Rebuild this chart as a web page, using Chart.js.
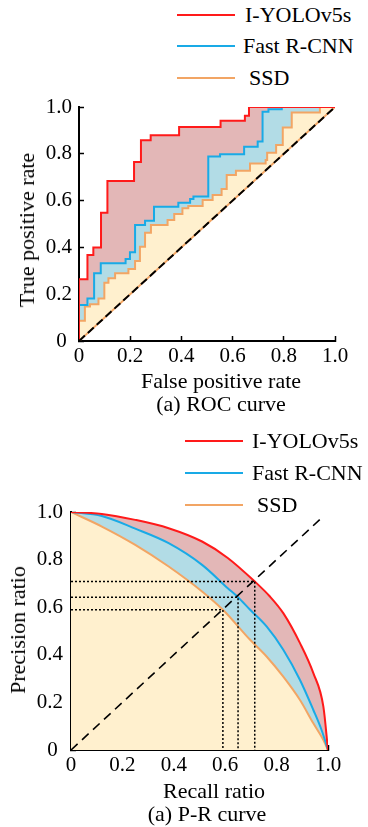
<!DOCTYPE html>
<html>
<head>
<meta charset="utf-8">
<script src="https://cdn.jsdelivr.net/npm/chart.js@4.4.0/dist/chart.umd.min.js"></script>
<style>
body { margin: 0; background: #fff; }
#page { position: relative; width: 368px; height: 827px; overflow: hidden; font-family: "Liberation Serif", "Times New Roman", serif; color: #000; }
canvas { position: absolute; left: 0; }
.txt { position: absolute; font-size: 22px; white-space: nowrap; line-height: 1; }
.lg { transform: translateY(-50%); }
.ctr { transform: translate(-50%, -50%); }
.rot { transform: translate(-50%, -50%) rotate(-90deg); }
.key { position: absolute; height: 0; width: 58px; border-top: 2px solid; margin-top: -1px; }
</style>
</head>
<body>
<div id="page">
  <!-- ROC legend -->
  <div class="key" style="left:177px; top:15px; border-color:#ff1a1a;"></div>
  <div class="txt lg" style="left:245px; top:15px;">I-YOLOv5s</div>
  <div class="key" style="left:177px; top:46px; border-color:#19aae6;"></div>
  <div class="txt lg" style="left:243px; top:46px;">Fast R-CNN</div>
  <div class="key" style="left:177px; top:78px; border-color:#f2a564;"></div>
  <div class="txt lg" style="left:249px; top:78px;">SSD</div>

  <canvas id="roc" width="368" height="330" style="top:90px;"></canvas>
  <div class="txt rot" style="left:27px; top:230px;">True positive rate</div>
  <div class="txt ctr" style="left:221px; top:381px;">False positive rate</div>
  <div class="txt ctr" style="left:221px; top:404px;">(a) ROC curve</div>

  <!-- P-R legend -->
  <div class="key" style="left:185px; top:441px; border-color:#ff1a1a;"></div>
  <div class="txt lg" style="left:252px; top:441px;">I-YOLOv5s</div>
  <div class="key" style="left:185px; top:473px; border-color:#19aae6;"></div>
  <div class="txt lg" style="left:252px; top:473px;">Fast R-CNN</div>
  <div class="key" style="left:185px; top:505px; border-color:#f2a564;"></div>
  <div class="txt lg" style="left:257px; top:505px;">SSD</div>

  <canvas id="pr" width="368" height="407" style="top:420px;"></canvas>
  <div class="txt rot" style="left:18px; top:630px;">Precision ratio</div>
  <div class="txt ctr" style="left:214px; top:791px;">Recall ratio</div>
  <div class="txt ctr" style="left:207px; top:814px;">(a) P-R curve</div>
</div>

<script>
// ROC curve points (false positive rate, true positive rate)
const rocYoloFpr = [0, 0, 0.033, 0.056, 0.086, 0.111, 0.215, 0.242, 0.280, 0.391, 0.553, 0.648, 0.664, 1.0];
const rocYoloTpr = [0, 0.264, 0.368, 0.400, 0.548, 0.684, 0.765, 0.858, 0.879, 0.914, 0.941, 0.963, 1.0, 1.0];

const rocFrcnnFpr = [0, 0, 0.033, 0.059, 0.085, 0.182, 0.199, 0.219, 0.258, 0.293, 0.388, 0.434, 0.447, 0.505, 0.551, 0.645, 0.698, 0.717, 0.740, 0.792, 1.0];
const rocFrcnnTpr = [0, 0.154, 0.182, 0.289, 0.332, 0.350, 0.379, 0.496, 0.514, 0.574, 0.591, 0.607, 0.618, 0.788, 0.798, 0.830, 0.853, 0.980, 0.990, 1.0, 1.0];

const rocSsdFpr = [0, 0, 0.023, 0.043, 0.076, 0.099, 0.115, 0.141, 0.193, 0.219, 0.238, 0.258, 0.281, 0.346, 0.372, 0.404, 0.427, 0.483, 0.522, 0.557, 0.577, 0.613, 0.668, 0.729, 0.735, 0.770, 0.796, 0.831, 0.941, 1.0];
const rocSsdTpr = [0, 0.087, 0.147, 0.157, 0.182, 0.249, 0.268, 0.289, 0.308, 0.342, 0.403, 0.463, 0.496, 0.517, 0.543, 0.567, 0.577, 0.603, 0.624, 0.650, 0.709, 0.728, 0.759, 0.774, 0.805, 0.838, 0.912, 0.977, 1.0, 1.0];

const chanceX = [0, 1];
const chanceY = [0, 1];

// P-R curve points (recall, precision)
const prYoloRecall = [0, 0.12, 0.25, 0.38, 0.51, 0.61, 0.715, 0.774, 0.826, 0.891, 0.943, 0.982, 1.0];
const prYoloPrecision = [1.0, 0.992, 0.967, 0.932, 0.876, 0.807, 0.708, 0.645, 0.575, 0.449, 0.323, 0.182, 0];

const prFrcnnRecall = [0, 0.12, 0.25, 0.38, 0.51, 0.61, 0.65, 0.697, 0.761, 0.826, 0.891, 0.943, 0.975, 1.0];
const prFrcnnPrecision = [1.0, 0.983, 0.93, 0.869, 0.778, 0.68, 0.642, 0.589, 0.519, 0.421, 0.294, 0.168, 0.084, 0];

const prSsdRecall = [0, 0.12, 0.25, 0.38, 0.51, 0.591, 0.697, 0.761, 0.826, 0.891, 0.943, 0.982, 1.0];
const prSsdPrecision = [1.0, 0.939, 0.862, 0.771, 0.666, 0.589, 0.463, 0.393, 0.308, 0.21, 0.112, 0.042, 0];

// break-even points where each curve meets the diagonal
const breakEvenRecall = [0.715, 0.650, 0.591];
const breakEvenPrecision = [0.708, 0.642, 0.589];

const prDiagX = [0, 0.98];
const prDiagY = [0, 0.98];

const tickValues = [0, 0.2, 0.4, 0.6, 0.8, 1.0];

const RED = '#ff1a1a', BLUE = '#19aae6', ORANGE = '#f2a564';
const RED_FILL = 'rgb(227,183,183)', BLUE_FILL = 'rgb(178,220,230)', CREAM = 'rgb(255,240,206)';

function pts(xs, ys) {
    return xs.map((x, i) => ({ x: x, y: ys[i] }));
}

function fmt(v, yAxis) {
    if (Math.abs(v) < 1e-9) return yAxis ? '0 ' : '0';
    return v.toFixed(1);
}

function axes(yWidth, xHeight, yPad) {
    const tickFont = { family: 'Liberation Serif', size: 21 };
    return {
        x: {
            type: 'linear', min: 0, max: 1,
            afterBuildTicks: (s) => { s.ticks = tickValues.map(v => ({ value: v })); },
            afterFit: (s) => { s.height = xHeight; s.paddingLeft = 0; s.paddingRight = 0; },
            grid: { drawOnChartArea: false, tickLength: -5, tickColor: '#000', tickWidth: 1.5 },
            border: { color: '#000', width: 2 },
            ticks: { color: '#000', font: tickFont, padding: 8, maxRotation: 0, callback: (v) => fmt(v, false) }
        },
        y: {
            type: 'linear', min: 0, max: 1,
            afterBuildTicks: (s) => { s.ticks = tickValues.map(v => ({ value: v })); },
            afterFit: (s) => { s.width = yWidth; s.paddingTop = 0; s.paddingBottom = 0; },
            grid: { drawOnChartArea: false, tickLength: -5, tickColor: '#000', tickWidth: 1.5 },
            border: { color: '#000', width: 2 },
            ticks: { color: '#000', font: tickFont, padding: yPad, callback: (v) => fmt(v, true) }
        }
    };
}

new Chart(document.getElementById('roc').getContext('2d'), {
    type: 'line',
    data: {
        datasets: [
            { data: pts(chanceX, chanceY), borderColor: '#000', borderWidth: 2, borderDash: [8, 4], pointRadius: 0, fill: false },
            { label: 'I-YOLOv5s', data: pts(rocYoloFpr, rocYoloTpr), borderColor: RED, borderWidth: 2, stepped: true, pointRadius: 0, fill: { target: 2 }, backgroundColor: RED_FILL },
            { label: 'Fast R-CNN', data: pts(rocFrcnnFpr, rocFrcnnTpr), borderColor: BLUE, borderWidth: 2, stepped: true, pointRadius: 0, fill: { target: 3 }, backgroundColor: BLUE_FILL },
            { label: 'SSD', data: pts(rocSsdFpr, rocSsdTpr), borderColor: ORANGE, borderWidth: 2, stepped: true, pointRadius: 0, fill: { target: 4 }, backgroundColor: CREAM },
            { data: pts(chanceX, chanceY), borderColor: ORANGE, borderWidth: 2, pointRadius: 0, fill: false }
        ]
    },
    options: {
        responsive: false,
        animation: false,
        devicePixelRatio: 1,
        layout: { padding: { top: 17, right: 33, left: 0, bottom: 0 } },
        plugins: { legend: { display: false }, tooltip: { enabled: false }, filler: { drawTime: 'beforeDatasetsDraw' } },
        scales: axes(79, 79, 12)
    }
});

const prSets = [
    { data: pts(prDiagX, prDiagY), borderColor: '#000', borderWidth: 1.6, borderDash: [9, 6], pointRadius: 0, fill: false }
];
for (let i = 0; i < breakEvenRecall.length; i++) {
    let r = breakEvenRecall[i];
    let p = breakEvenPrecision[i];
    prSets.push({ data: [{ x: 0, y: p }, { x: r, y: p }, { x: r, y: 0 }], borderColor: '#000', borderWidth: 1.5, borderDash: [2, 2], pointRadius: 0, fill: false });
}
prSets.push(
    { label: 'I-YOLOv5s', data: pts(prYoloRecall, prYoloPrecision), borderColor: RED, borderWidth: 2, cubicInterpolationMode: 'monotone', pointRadius: 0, fill: { target: 5 }, backgroundColor: RED_FILL },
    { label: 'Fast R-CNN', data: pts(prFrcnnRecall, prFrcnnPrecision), borderColor: BLUE, borderWidth: 2, cubicInterpolationMode: 'monotone', pointRadius: 0, fill: { target: 6 }, backgroundColor: BLUE_FILL },
    { label: 'SSD', data: pts(prSsdRecall, prSsdPrecision), borderColor: ORANGE, borderWidth: 2, cubicInterpolationMode: 'monotone', pointRadius: 0, fill: 'origin', backgroundColor: CREAM }
);

new Chart(document.getElementById('pr').getContext('2d'), {
    type: 'line',
    data: { datasets: prSets },
    options: {
        responsive: false,
        animation: false,
        devicePixelRatio: 1,
        layout: { padding: { top: 92, right: 40, left: 0, bottom: 0 } },
        plugins: { legend: { display: false }, tooltip: { enabled: false }, filler: { drawTime: 'beforeDatasetsDraw' } },
        scales: axes(71, 77, 13)
    }
});
</script>
</body>
</html>
